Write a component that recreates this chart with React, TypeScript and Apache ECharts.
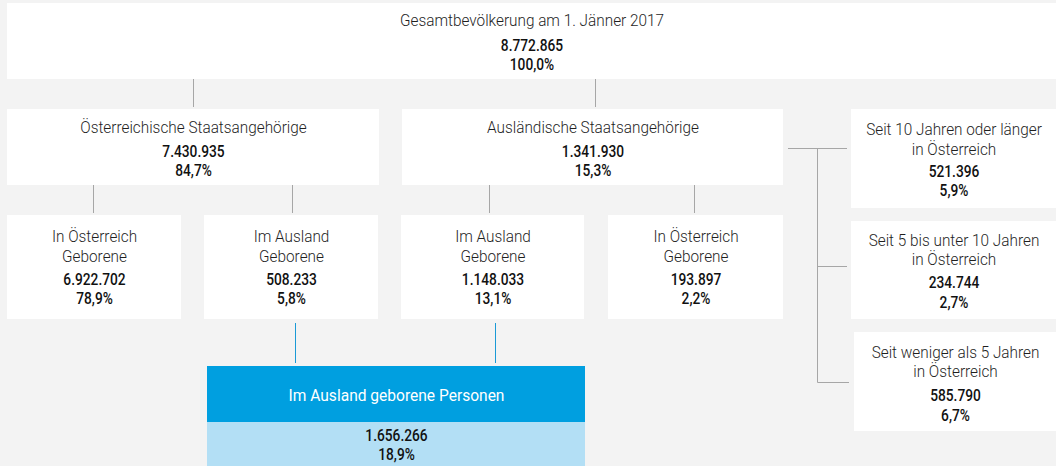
import React, { useEffect, useRef } from "react";
import * as echarts from "echarts";

// Node data
const nodeIds = ["total", "aut", "for", "autIn", "autAbr", "forAbr", "forIn", "s10", "s5", "s0", "bornAbr"];
const nodeTitles = [
  ["Gesamtbevölkerung am 1. Jänner 2017"],
  ["Österreichische Staatsangehörige"],
  ["Ausländische Staatsangehörige"],
  ["In Österreich", "Geborene"],
  ["Im Ausland", "Geborene"],
  ["Im Ausland", "Geborene"],
  ["In Österreich", "Geborene"],
  ["Seit 10 Jahren oder länger", "in Österreich"],
  ["Seit 5 bis unter 10 Jahren", "in Österreich"],
  ["Seit weniger als 5 Jahren", "in Österreich"],
  ["Im Ausland geborene Personen"],
];
const nodeValues = ["8.772.865", "7.430.935", "1.341.930", "6.922.702", "508.233", "1.148.033", "193.897", "521.396", "234.744", "585.790", "1.656.266"];
const nodePercents = ["100,0%", "84,7%", "15,3%", "78,9%", "5,8%", "13,1%", "2,2%", "5,9%", "2,7%", "6,7%", "18,9%"];

// Layout (boxes: x0, y0, x1, y1)
const boxes: number[][] = [
  [7, 3, 1056, 79],
  [7, 109, 379, 185],
  [402, 109, 783, 185],
  [7, 215, 181, 319],
  [204, 215, 378, 319],
  [401, 215, 584, 319],
  [608, 215, 783, 319],
  [851, 109, 1056, 208],
  [851, 221, 1056, 319],
  [854, 332, 1056, 431],
];
// text line y positions for each box: title lines..., value, percent
const textYs: number[][] = [
  [20, 46, 65],
  [127, 152, 171],
  [127, 152, 171],
  [236, 256, 280, 299],
  [236, 256, 280, 299],
  [236, 256, 280, 299],
  [236, 256, 280, 299],
  [129, 149, 172, 191],
  [240, 259, 283, 303],
  [352, 371, 396, 416],
];

const FONT = "Roboto";

function textEl(x: number, y: number, text: string, size: number, weight: any, color: string, sx: number) {
  return {
    type: "group",
    x,
    y,
    scaleX: sx,
    children: [
      {
        type: "text",
        x: 0,
        y: 0,
        style: {
          text,
          fontFamily: FONT,
          fontSize: size,
          fontWeight: weight,
          fill: color,
          textAlign: "center",
          textVerticalAlign: "middle",
        },
      },
    ],
  };
}

function line(x1: number, y1: number, x2: number, y2: number, color = "#a6a6a6") {
  return {
    type: "line",
    shape: { x1, y1, x2, y2 },
    style: { stroke: color, lineWidth: 1 },
  };
}

export default function App() {
  const ref = useRef<HTMLDivElement>(null);
  useEffect(() => {
    document.body.style.margin = "0";
    const chart = echarts.init(ref.current!, null, { renderer: "svg" });
    const els: any[] = [];
    els.push({ type: "rect", shape: { x: 0, y: 0, width: 1056, height: 466 }, style: { fill: "#f3f3f3" } });

    // connectors
    els.push(line(193.5, 79, 193.5, 107));
    els.push(line(595.5, 79, 595.5, 107));
    els.push(line(93.5, 185, 93.5, 213));
    els.push(line(292.5, 185, 292.5, 213));
    els.push(line(489.5, 185, 489.5, 213));
    els.push(line(694.5, 185, 694.5, 213));
    // bracket
    els.push(line(788, 148.5, 847, 148.5));
    els.push(line(817.5, 148.5, 817.5, 382.5));
    els.push(line(817.5, 266.5, 847, 266.5));
    els.push(line(817.5, 382.5, 849, 382.5));
    // blue connectors
    els.push(line(295.5, 323, 295.5, 363, "#1a9ad6"));
    els.push(line(495.5, 323, 495.5, 363, "#1a9ad6"));

    boxes.forEach((b, i) => {
      els.push({ type: "rect", shape: { x: b[0], y: b[1], width: b[2] - b[0], height: b[3] - b[1] }, style: { fill: "#ffffff" } });
      const cx = (b[0] + b[2]) / 2 + 0.5;
      const ys = textYs[i];
      const titles = nodeTitles[i];
      titles.forEach((t, k) => els.push(textEl(cx, ys[k], t, 16.5, 300, "#1f1f1f", 0.93)));
      els.push(textEl(cx, ys[titles.length], nodeValues[i], 16, 500, "#111111", 0.86));
      els.push(textEl(cx, ys[titles.length + 1], nodePercents[i], 16, 500, "#111111", 0.86));
    });

    // blue box
    const last = nodeIds.length - 1;
    els.push({ type: "rect", shape: { x: 207, y: 366, width: 378, height: 56 }, style: { fill: "#009fe0" } });
    els.push({ type: "rect", shape: { x: 207, y: 422, width: 378, height: 44 }, style: { fill: "#b3dff5" } });
    els.push(textEl(396.5, 395, nodeTitles[last][0], 17, 400, "#ffffff", 0.915));
    els.push(textEl(396.5, 436, nodeValues[last], 16, 500, "#111111", 0.86));
    els.push(textEl(396.5, 455, nodePercents[last], 16, 500, "#111111", 0.86));

    chart.setOption({ animation: false, graphic: { elements: els } });
    return () => chart.dispose();
  }, []);
  return <div ref={ref} style={{ width: 1056, height: 466 }} />;
}
